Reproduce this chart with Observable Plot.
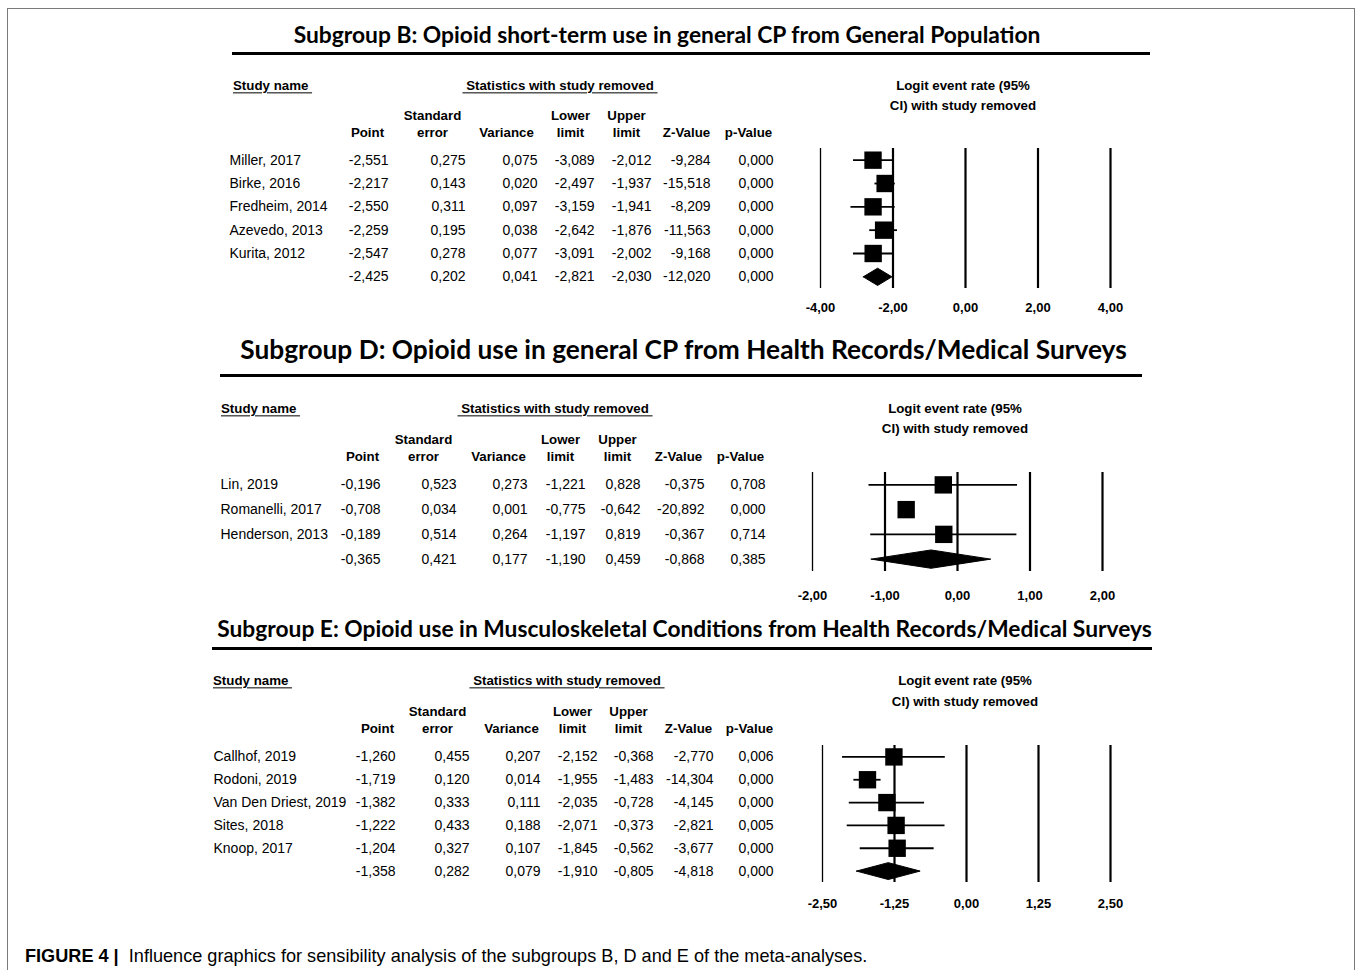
<!DOCTYPE html>
<html>
<head>
<meta charset="utf-8">
<script src="https://cdn.jsdelivr.net/npm/d3@7"></script>
<script src="https://cdn.jsdelivr.net/npm/@observablehq/plot@0.6"></script>
<style>
  html, body { margin: 0; padding: 0; background: #fff; }
  #fig { position: relative; width: 1355px; height: 970px; overflow: hidden; background: #fff; }
  .abs { position: absolute; white-space: pre; line-height: 1; }
  .title { font-family: Lato, "Open Sans", sans-serif; font-weight: 700; font-size: 22px; color: #000; }
  .ul { text-decoration: underline; text-underline-offset: 2px; }
  .rule { position: absolute; height: 3px; background: #000; }
  .plotbox { position: absolute; left: 0; }
  .plotbox svg { display: block; }
</style>
</head>
<body>
<div id="fig"></div>
<script>
// ---------------- DATA ----------------
// Subgroup B
const studiesB = ["Miller, 2017", "Birke, 2016", "Fredheim, 2014", "Azevedo, 2013", "Kurita, 2012", ""];
const pointB   = [-2.551, -2.217, -2.550, -2.259, -2.547, -2.425];
const seB      = [0.275, 0.143, 0.311, 0.195, 0.278, 0.202];
const varB     = [0.075, 0.020, 0.097, 0.038, 0.077, 0.041];
const lowerB   = [-3.089, -2.497, -3.159, -2.642, -3.091, -2.821];
const upperB   = [-2.012, -1.937, -1.941, -1.876, -2.002, -2.030];
const zB       = [-9.284, -15.518, -8.209, -11.563, -9.168, -12.020];
const pB       = [0.000, 0.000, 0.000, 0.000, 0.000, 0.000];
const ticksB   = [-4, -2, 0, 2, 4];

// Subgroup D
const studiesD = ["Lin, 2019", "Romanelli, 2017", "Henderson, 2013", ""];
const pointD   = [-0.196, -0.708, -0.189, -0.365];
const seD      = [0.523, 0.034, 0.514, 0.421];
const varD     = [0.273, 0.001, 0.264, 0.177];
const lowerD   = [-1.221, -0.775, -1.197, -1.190];
const upperD   = [0.828, -0.642, 0.819, 0.459];
const zD       = [-0.375, -20.892, -0.367, -0.868];
const pD       = [0.708, 0.000, 0.714, 0.385];
const ticksD   = [-2, -1, 0, 1, 2];

// Subgroup E
const studiesE = ["Callhof, 2019", "Rodoni, 2019", "Van Den Driest, 2019", "Sites, 2018", "Knoop, 2017", ""];
const pointE   = [-1.260, -1.719, -1.382, -1.222, -1.204, -1.358];
const seE      = [0.455, 0.120, 0.333, 0.433, 0.327, 0.282];
const varE     = [0.207, 0.014, 0.111, 0.188, 0.107, 0.079];
const lowerE   = [-2.152, -1.955, -2.035, -2.071, -1.845, -1.910];
const upperE   = [-0.368, -1.483, -0.728, -0.373, -0.562, -0.805];
const zE       = [-2.770, -14.304, -4.145, -2.821, -3.677, -4.818];
const pE       = [0.006, 0.000, 0.000, 0.005, 0.000, 0.000];
const ticksE   = [-2.5, -1.25, 0, 1.25, 2.5];

const columnHeaders = ["Point", "Standard\nerror", "Variance", "Lower\nlimit", "Upper\nlimit", "Z-Value", "p-Value"];

const titleB = "Subgroup B: Opioid short-term use in general CP from General Population";
const titleD = "Subgroup D: Opioid use in general CP from Health Records/Medical Surveys";
const titleE = "Subgroup E: Opioid use in Musculoskeletal Conditions from Health Records/Medical Surveys";
const captionBold = "FIGURE 4 |";
const captionText = "Influence graphics for sensibility analysis of the subgroups B, D and E of the meta-analyses.";

// ---------------- LAYOUT (positions/styles only) ----------------
const W = 1355;
const panels = [
  { title: titleB, titleX: 667, titleY: 34, titleW: 747, rule: [232, 1150, 52],
    names: studiesB, point: pointB, se: seB, variance: varB, lower: lowerB, upper: upperB, z: zB, p: pB, ticks: ticksB,
    top: 60, height: 265, frameTop: 148, frameBottom: 288, xRange: [820, 1110],
    nameX: 229, valRight: [388, 465, 537, 594, 651, 710, 773], hdrCenter: [367, 432, 506, 570, 626, 686, 748], hdrBase: 136,
    studyLbl: [233, 86], statsLbl: [560, 86], logit: [963, 86, 106], tickDy: 23 },
  { title: titleD, titleX: 683.5, titleY: 349, titleW: 887, rule: [220, 1142, 374],
    names: studiesD, point: pointD, se: seD, variance: varD, lower: lowerD, upper: upperD, z: zD, p: pD, ticks: ticksD,
    top: 390, height: 225, frameTop: 472, frameBottom: 571, xRange: [812, 1102],
    nameX: 220, valRight: [380, 456, 527, 585, 640, 704, 765], hdrCenter: [362, 423, 498, 560, 617, 678, 740], hdrBase: 460,
    studyLbl: [221, 409], statsLbl: [555, 409], logit: [955, 409, 429], tickDy: 28 },
  { title: titleE, titleX: 684.5, titleY: 629, titleW: 935, rule: [212, 1152, 647],
    names: studiesE, point: pointE, se: seE, variance: varE, lower: lowerE, upper: upperE, z: zE, p: pE, ticks: ticksE,
    top: 660, height: 260, frameTop: 745, frameBottom: 882, xRange: [822, 1110],
    nameX: 213, valRight: [395, 469, 540, 597, 653, 713, 773], hdrCenter: [377, 437, 511, 572, 628, 688, 749], hdrBase: 732,
    studyLbl: [213, 681], statsLbl: [567, 681], logit: [965, 681, 702], tickDy: 25 }
];

const fig = document.getElementById("fig");
const fmt3 = v => v.toFixed(3).replace(".", ",");
const fmt2 = v => v.toFixed(2).replace(".", ",");

// Detect a condensed sans (Arial Narrow look-alike)
function textWidth(family, txt) {
  const c = document.createElement("canvas").getContext("2d");
  c.font = `20px ${family}`;
  return c.measureText(txt).width;
}
const probe = "Statistics with study removed 0123456789";
const narrowOK = Math.abs(textWidth('"Liberation Sans Narrow", monospace', probe) - textWidth("monospace", probe)) > 1;
const FONT = narrowOK ? '"Liberation Sans Narrow", "Arial Narrow", sans-serif' : '"Liberation Sans", Arial, sans-serif';
const K = narrowOK ? 1 / 0.82 : 1;            // size factor keeping similar widths
const fsRow = 14 * K, fsHdr = 13.3 * K, fsTick = 13 * K;

function place(html, x, y, style, anchor = "start") {
  const el = document.createElement("div");
  el.className = "abs";
  el.innerHTML = html;
  Object.assign(el.style, style || {});
  el.style.left = x + "px";
  el.style.top = y + "px";
  el.style.transform = `translate(${anchor === "middle" ? "-50%" : "0"}, -50%)`;
  fig.appendChild(el);
  return el;
}
function fit(el, target) {
  const w = el.getBoundingClientRect().width;
  const fs = parseFloat(getComputedStyle(el).fontSize);
  el.style.fontSize = (fs * target / w) + "px";
}
const hdrStyle = { fontFamily: FONT, fontWeight: "700", fontSize: fsHdr + "px", color: "#000" };

// frame border
const border = document.createElement("div");
Object.assign(border.style, { position: "absolute", left: "7px", top: "8px", width: "1346px", height: "980px",
  borderTop: "1.5px solid #7a7a7a", borderLeft: "1.5px solid #7a7a7a", borderRight: "1.5px solid #7a7a7a" });
fig.appendChild(border);

for (const P of panels) {
  // Title + rule
  const t = place(P.title, P.titleX, P.titleY, {}, "middle");
  t.classList.add("title");
  fit(t, P.titleW);
  const r = document.createElement("div");
  r.className = "rule";
  Object.assign(r.style, { left: P.rule[0] + "px", width: (P.rule[1] - P.rule[0]) + "px", top: P.rule[2] + "px" });
  fig.appendChild(r);

  // Underlined headings and forest title
  const s1 = place("Study name ", P.studyLbl[0], P.studyLbl[1], hdrStyle); s1.classList.add("ul");
  const s2 = place(" Statistics with study removed ", P.statsLbl[0], P.statsLbl[1], hdrStyle, "middle"); s2.classList.add("ul");
  place("Logit event rate (95%", P.logit[0], P.logit[1], hdrStyle, "middle");
  place("CI) with study removed", P.logit[0], P.logit[2], hdrStyle, "middle");

  const n = P.names.length;
  const rows = P.names.map((name, i) => ({
    i, name, point: P.point[i], se: P.se[i], variance: P.variance[i],
    lower: P.lower[i], upper: P.upper[i], z: P.z[i], p: P.p[i], summary: i === n - 1
  }));
  const keys = ["point", "se", "variance", "lower", "upper", "z", "p"];
  const cells = [];
  rows.forEach(r => keys.forEach((k, j) => cells.push({ i: r.i, j, text: fmt3(r[k]) })));
  const headers = columnHeaders.map((label, j) => ({ j, label }));

  const yScale = { domain: [-0.5, n - 0.5], reverse: true, axis: null };
  const margins = { marginTop: P.frameTop - P.top, marginBottom: P.top + P.height - P.frameBottom };

  // Table plot
  const table = Plot.plot({
    width: W, height: P.height, ...margins, marginLeft: 0, marginRight: 0,
    x: { domain: [0, W], range: [0, W], axis: null },
    y: yScale,
    style: { background: "transparent", fontFamily: FONT, fontSize: fsRow + "px", color: "#000", overflow: "visible" },
    marks: [
      Plot.text(rows, { x: () => P.nameX, y: "i", text: "name", textAnchor: "start", fontSize: fsRow, fill: "#000" }),
      Plot.text(cells, { x: d => P.valRight[d.j], y: "i", text: "text", textAnchor: "end", fontSize: fsRow, fill: "#000" }),
      Plot.text(headers, { x: d => P.hdrCenter[d.j], frameAnchor: "top", dy: P.hdrBase - P.frameTop,
        lineAnchor: "bottom", lineHeight: 17 / fsHdr, text: "label", fontWeight: "bold", fontSize: fsHdr, fill: "#000" })
    ]
  });

  // Forest plot
  const studies = rows.filter(d => !d.summary);
  const s = rows[n - 1];
  const h = 0.37;
  const diamond = [
    { x: s.lower, y: s.i }, { x: s.point, y: s.i - h }, { x: s.upper, y: s.i },
    { x: s.point, y: s.i + h }, { x: s.lower, y: s.i }
  ];
  const forest = Plot.plot({
    width: W, height: P.height, ...margins, marginLeft: P.xRange[0], marginRight: W - P.xRange[1],
    x: { domain: [P.ticks[0], P.ticks[P.ticks.length - 1]], axis: null },
    y: yScale,
    style: { background: "transparent", fontFamily: FONT, color: "#000", overflow: "visible" },
    marks: [
      Plot.ruleX(P.ticks, { x: d => d, stroke: "#000", strokeWidth: (d, i) => i === 0 ? 1.3 : 2.2 }),
      Plot.ruleY(studies, { y: "i", x1: "lower", x2: "upper", stroke: "#000", strokeWidth: 1.8 }),
      Plot.dot(studies, { x: "point", y: "i", symbol: "square", r: 9.8, fill: "#000", stroke: "none" }),
      Plot.line(diamond, { x: "x", y: "y", fill: "#000", stroke: "#000", strokeWidth: 1 }),
      Plot.text(P.ticks, { x: d => d, frameAnchor: "bottom", dy: P.tickDy, text: d => fmt2(d),
        fontWeight: "bold", fontSize: fsTick, fill: "#000" })
    ]
  });

  for (const svg of [table, forest]) {
    const box = document.createElement("div");
    box.className = "plotbox";
    box.style.top = P.top + "px";
    box.appendChild(svg);
    fig.appendChild(box);
  }
}

// Caption
const cap = place(`<b>${captionBold}</b>  ${captionText}`, 25, 956, { fontFamily: FONT, fontSize: "15px", color: "#000" });
fit(cap, 843);
</script>
</body>
</html>
